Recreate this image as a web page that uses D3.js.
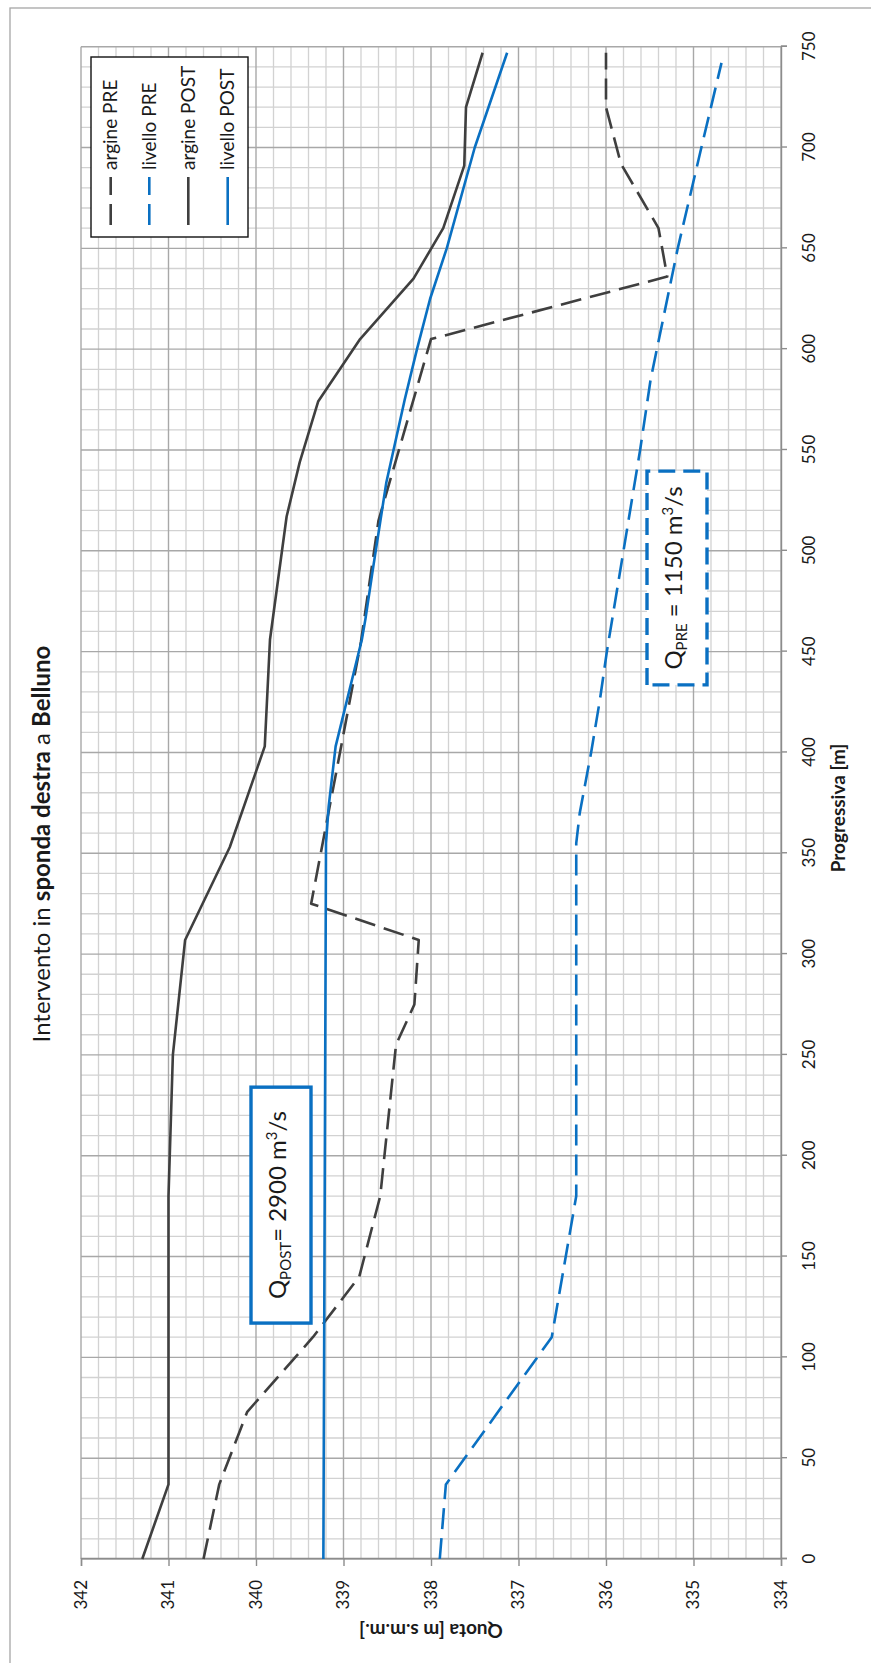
<!DOCTYPE html>
<html>
<head>
<meta charset="utf-8">
<script src="https://cdn.jsdelivr.net/npm/d3@7"></script>
<style>
  html, body { margin: 0; padding: 0; background: #fff; }
  svg { display: block; font-family: Lato, "Open Sans", sans-serif; }
</style>
</head>
<body>
<script>
// Progressive distance [m] and elevation [m s.m.m.] of each profile
const argPreProg  = [0, 37, 73, 110, 140, 180, 255, 275, 307, 325, 400, 455, 515, 605, 636, 660, 692, 720, 747];
const argPreQuota = [340.6, 340.42, 340.1, 339.35, 338.82, 338.58, 338.4, 338.19, 338.14, 339.37, 339.04, 338.8, 338.6, 338.0, 335.3, 335.4, 335.83, 336.0, 336.0];

const livPreProg  = [0, 37, 110, 140, 180, 355, 370, 400, 426, 450, 500, 550, 585, 650, 700, 742];
const livPreQuota = [337.9, 337.83, 336.62, 336.5, 336.34, 336.34, 336.3, 336.17, 336.07, 335.99, 335.8, 335.61, 335.49, 335.18, 334.91, 334.68];

const argPostProg  = [0, 37, 180, 250, 307, 353, 403, 456, 517, 544, 574, 605, 635, 660, 691, 720, 747];
const argPostQuota = [341.3, 341.0, 341.0, 340.95, 340.81, 340.3, 339.9, 339.84, 339.65, 339.5, 339.29, 338.81, 338.2, 337.86, 337.62, 337.6, 337.41];

const livPostProg  = [0, 355, 373, 403, 456, 466, 492, 534, 575, 600, 625, 650, 700, 747];
const livPostQuota = [339.23, 339.2, 339.17, 339.09, 338.79, 338.75, 338.66, 338.51, 338.3, 338.16, 338.01, 337.82, 337.5, 337.13];

const progTicks  = d3.range(0, 751, 50);
const quotaTicks = [334, 335, 336, 337, 338, 339, 340, 341, 342];

const seriesNames = ["argine PRE", "livello PRE", "argine POST", "livello POST"];
const titleParts = [
  { text: "Intervento in ", bold: false },
  { text: "sponda destra", bold: true },
  { text: " a ", bold: false },
  { text: "Belluno", bold: true }
];
const xTitle = "Progressiva [m]";
const yTitle = "Quota [m s.m.m.]";

const W = 871, H = 1663;
const DARK = "#3f3f3f", BLUE = "#0a70c2";
const DASH = "21 9";

const svg = d3.select("body").append("svg").attr("width", W).attr("height", H);
svg.append("rect").attr("width", W).attr("height", H).attr("fill", "#fff");

// The chart is laid out landscape and turned a quarter turn counter-clockwise
const g = svg.append("g").attr("transform", `translate(0,${H}) rotate(-90)`);

// chart frame
g.append("rect").attr("x", -10).attr("y", 10).attr("width", 1665).attr("height", 900)
  .attr("fill", "none").attr("stroke", "#a6a6a6").attr("stroke-width", 1.3);

const x = d3.scaleLinear().domain([0, 750]).range([104, 1616.3]);
const y = d3.scaleLinear().domain([334, 342]).range([781, 81]);

// grid
const grid = g.append("g");
const minorP = d3.range(0, 751, 10).filter(v => v % 50 !== 0);
const minorQ = d3.range(0, 41).map(i => 334 + i * 0.2).filter((v, i) => i % 5 !== 0);
grid.selectAll(".mp").data(minorP).join("line")
  .attr("x1", d => x(d)).attr("x2", d => x(d)).attr("y1", y(342)).attr("y2", y(334))
  .attr("stroke", "#d2d2d2").attr("stroke-width", 1.3);
grid.selectAll(".mq").data(minorQ).join("line")
  .attr("x1", x(0)).attr("x2", x(750)).attr("y1", d => y(d)).attr("y2", d => y(d))
  .attr("stroke", "#d2d2d2").attr("stroke-width", 1.3);
grid.selectAll(".Mp").data(progTicks).join("line")
  .attr("x1", d => x(d)).attr("x2", d => x(d)).attr("y1", y(342)).attr("y2", y(334))
  .attr("stroke", "#a8a8a8").attr("stroke-width", 1.4);
grid.selectAll(".Mq").data(quotaTicks).join("line")
  .attr("x1", x(0)).attr("x2", x(750)).attr("y1", d => y(d)).attr("y2", d => y(d))
  .attr("stroke", "#a8a8a8").attr("stroke-width", 1.4);

// axes
const xAxis = g.append("g").attr("transform", `translate(0,${y(334)})`)
  .call(d3.axisBottom(x).tickValues(progTicks).tickSize(6).tickPadding(16).tickFormat(d3.format("d")));
const yAxis = g.append("g").attr("transform", `translate(${x(0)},0)`)
  .call(d3.axisLeft(y).tickValues(quotaTicks).tickSize(7).tickPadding(14).tickFormat(d3.format("d")));
[xAxis, yAxis].forEach(a => {
  a.select(".domain").attr("stroke", "#8c8c8c").attr("stroke-width", 1.4);
  a.selectAll(".tick line").attr("stroke", "#8c8c8c").attr("stroke-width", 1.4);
  a.selectAll(".tick text").attr("font-family", "Lato, sans-serif").attr("font-size", 17).attr("fill", "#1a1a1a");
});

// series
const line = d3.line().x(d => x(d[0])).y(d => y(d[1]));
const zip = (a, b) => a.map((v, i) => [v, b[i]]);
const series = [
  { pts: zip(argPreProg, argPreQuota), color: DARK, dash: DASH },
  { pts: zip(livPreProg, livPreQuota), color: BLUE, dash: DASH },
  { pts: zip(argPostProg, argPostQuota), color: DARK, dash: null },
  { pts: zip(livPostProg, livPostQuota), color: BLUE, dash: null }
];
g.append("g").selectAll("path").data(series).join("path")
  .attr("d", d => line(d.pts)).attr("fill", "none")
  .attr("stroke", d => d.color).attr("stroke-width", 2.6)
  .attr("stroke-dasharray", d => d.dash).attr("stroke-linejoin", "round");

// legend
const lg = g.append("g");
lg.append("rect").attr("x", 1426).attr("y", 91).attr("width", 180).attr("height", 157)
  .attr("fill", "#fff").attr("stroke", "#111").attr("stroke-width", 1.4);
const rowsV = [110.7, 149.3, 188.3, 227.7];
series.forEach((s, i) => {
  lg.append("line").attr("x1", 1438).attr("x2", 1486).attr("y1", rowsV[i]).attr("y2", rowsV[i])
    .attr("stroke", s.color).attr("stroke-width", 2.6).attr("stroke-dasharray", s.dash);
  lg.append("text").attr("x", 1493).attr("y", rowsV[i]).attr("dy", "0.35em")
    .attr("font-size", 19).attr("fill", "#1a1a1a").text(seriesNames[i]);
});

// titles
const t = g.append("text").attr("x", 819).attr("y", 50).attr("text-anchor", "middle")
  .attr("font-size", 24).attr("fill", "#1a1a1a");
titleParts.forEach(p => t.append("tspan").attr("font-weight", p.bold ? 700 : 400).text(p.text));

g.append("text").attr("x", 855).attr("y", 838).attr("dy", "0.35em").attr("text-anchor", "middle")
  .attr("font-size", 19).attr("font-weight", 700).attr("fill", "#1a1a1a").text(xTitle);
g.append("text").attr("transform", `translate(32,${(y(334) + y(342)) / 2}) rotate(-90)`)
  .attr("dy", "0.35em").attr("text-anchor", "middle")
  .attr("font-size", 19).attr("font-weight", 700).attr("fill", "#1a1a1a").text(yTitle);

// discharge labels
function flowBox(p0, p1, q0, q1, sub, value, dashed) {
  const bx = g.append("g");
  const x0 = x(p0), x1 = x(p1), y0 = y(q0), y1 = y(q1);
  bx.append("rect").attr("x", x0).attr("y", y0).attr("width", x1 - x0).attr("height", y1 - y0)
    .attr("fill", "#fff").attr("stroke", BLUE).attr("stroke-width", 3.4)
    .attr("stroke-dasharray", dashed ? "17 8" : null);
  const txt = bx.append("text").attr("x", (x0 + x1) / 2).attr("y", y0 + 35)
    .attr("text-anchor", "middle").attr("font-size", 24).attr("fill", "#1a1a1a");
  txt.append("tspan").text("Q");
  txt.append("tspan").attr("font-size", 15).attr("dy", 5).text(sub);
  txt.append("tspan").attr("dy", -5).text(value + " m");
  txt.append("tspan").attr("font-size", 15).attr("dy", -9).text("3");
  txt.append("tspan").attr("dy", 9).text("/s");
}
flowBox(117, 234, 342 - (251 - 81) / 87.5, 342 - (311 - 81) / 87.5, "POST", "= 2900", false);
flowBox(433.5, 539.5, 342 - (647 - 81) / 87.5, 342 - (707 - 81) / 87.5, "PRE", " = 1150", true);
</script>
</body>
</html>
